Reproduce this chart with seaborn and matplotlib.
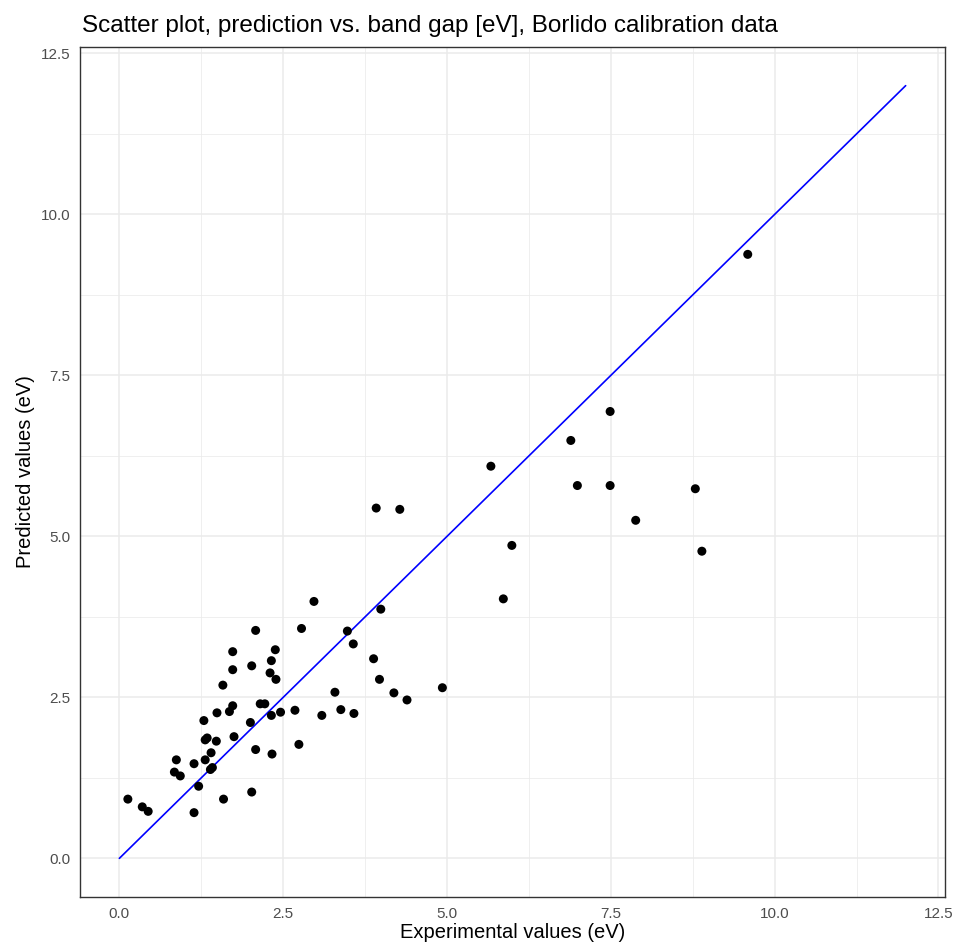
import matplotlib
matplotlib.use("Agg")
import matplotlib.pyplot as plt
import seaborn as sns
import pandas as pd
from matplotlib.ticker import MultipleLocator

experimental = [0.13, 0.35, 0.44, 0.84, 0.87, 0.93, 1.14, 1.14, 1.21, 1.29,
                1.31, 1.34, 1.31, 1.39, 1.42, 1.40, 1.48, 1.49, 1.59, 1.58,
                1.68, 1.73, 1.73, 1.73, 1.75, 2.02, 2.00, 2.02, 2.08, 2.08,
                2.15, 2.22, 2.30, 2.32, 2.38, 2.39, 2.32, 2.33, 2.46, 2.68,
                2.74, 2.78, 2.97, 3.09, 3.29, 3.38, 3.48, 3.58, 3.57, 3.88,
                3.97, 3.92, 3.99, 4.19, 4.28, 4.39, 4.93, 5.67, 5.86, 5.99,
                6.89, 6.99, 7.49, 7.49, 7.88, 8.79, 8.89, 9.59]
predicted = [0.92, 0.80, 0.73, 1.34, 1.53, 1.28, 1.47, 0.71, 1.12, 2.14,
             1.84, 1.87, 1.53, 1.38, 1.41, 1.64, 1.82, 2.26, 0.92, 2.69,
             2.28, 2.37, 2.93, 3.21, 1.89, 2.99, 2.11, 1.03, 3.54, 1.69,
             2.40, 2.40, 2.88, 3.07, 3.24, 2.78, 2.22, 1.62, 2.27, 2.30,
             1.77, 3.57, 3.99, 2.22, 2.58, 2.31, 3.53, 2.25, 3.33, 3.10,
             2.78, 5.44, 3.87, 2.57, 5.42, 2.46, 2.65, 6.09, 4.03, 4.86,
             6.49, 5.79, 6.94, 5.79, 5.25, 5.74, 4.77, 9.38]
identity_x = [0, 12]
identity_y = [0, 12]
ticks = [0.0, 2.5, 5.0, 7.5, 10.0, 12.5]
tick_labels = ["0.0", "2.5", "5.0", "7.5", "10.0", "12.5"]

df = pd.DataFrame({"Experimental": experimental, "Predicted": predicted})
line_df = pd.DataFrame({"x": identity_x, "y": identity_y})

sns.set_style("white")
plt.rcParams["font.family"] = ["Liberation Sans", "DejaVu Sans"]

fig = plt.figure(figsize=(9.55, 9.46), dpi=100)
ax = fig.add_axes([0.0838, 0.0518, 0.9895 - 0.0838, 0.9503 - 0.0518])

ax.set_xlim(-0.6, 12.6)
ax.set_ylim(-0.6, 12.6)

# grid
ax.xaxis.set_minor_locator(MultipleLocator(1.25))
ax.yaxis.set_minor_locator(MultipleLocator(1.25))
ax.grid(True, which="major", color="#EBEBEB", linewidth=1.1, zorder=0)
ax.grid(True, which="minor", color="#EBEBEB", linewidth=0.55, zorder=0)
ax.set_axisbelow(True)

sns.lineplot(data=line_df, x="x", y="y", ax=ax, color="#0000FF", linewidth=1.2, zorder=2)
sns.scatterplot(data=df, x="Experimental", y="Predicted", ax=ax, color="black",
                s=42, edgecolor="none", zorder=3)

ax.set_xticks(ticks)
ax.set_xticklabels(tick_labels)
ax.set_yticks(ticks)
ax.set_yticklabels(tick_labels)
ax.tick_params(axis="both", which="major", length=4, width=0.8, color="#333333",
               labelcolor="#4D4D4D", labelsize=11, pad=3, direction="out")
ax.tick_params(axis="both", which="minor", length=0)
for side in ["left", "right", "top", "bottom"]:
    ax.spines[side].set_visible(True)
    ax.spines[side].set_color("#333333")
    ax.spines[side].set_linewidth(1.0)

ax.set_xlabel("Experimental values (eV)", fontsize=14.5, color="black", labelpad=2)
ax.set_ylabel("Predicted values (eV)", fontsize=14.5, color="black", labelpad=4)
fig.text(82 / 955, 1 - 32 / 946,
         "Scatter plot, prediction vs. band gap [eV], Borlido calibration data",
         fontsize=17.5, ha="left", va="baseline", color="black")

fig.savefig("out.png", dpi=100)
